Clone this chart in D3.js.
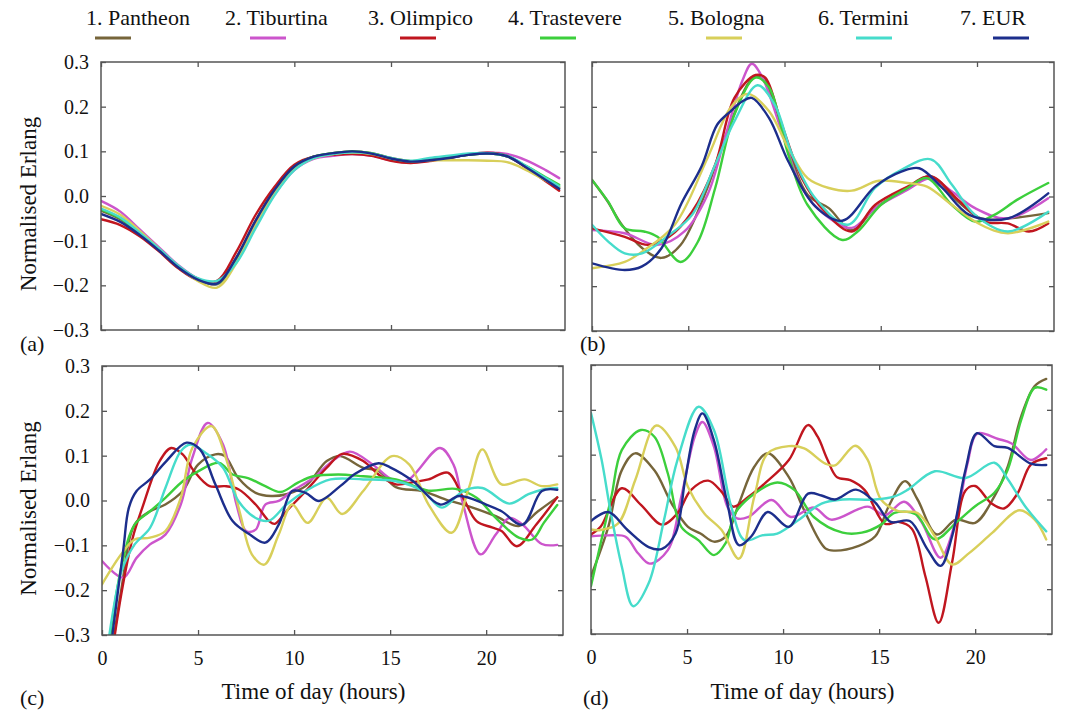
<!DOCTYPE html>
<html>
<head>
<meta charset="utf-8">
<script src="https://cdn.jsdelivr.net/npm/d3@7"></script>
<style>
  body { margin: 0; background: #fff; }
  svg { display: block; }
  text { font-family: "Liberation Serif", "Times New Roman", serif; fill: #111; }
</style>
</head>
<body>
<svg id="chart" width="1080" height="728"></svg>
<script>
// stations, in legend order
const stations = ['Pantheon', 'Tiburtina', 'Olimpico', 'Trastevere', 'Bologna', 'Termini', 'EUR'];
const colors = ['#76653a', '#cc55cc', '#c0161f', '#3ccf3c', '#d8cf5a', '#46dccb', '#1c2e8c'];

const yTicks = [0.3, 0.2, 0.1, 0.0, -0.1, -0.2, -0.3];
const xTicks = [0, 5, 10, 15, 20];

// panel (a): hourly samples
const hoursA = [0, 1, 2, 3, 4, 5, 6, 7, 8, 9, 10, 11, 12, 13, 14, 15, 16, 17, 18, 19, 20, 21, 22, 23, 23.7];
const panelA = [
  [-0.033, -0.052, -0.084, -0.12, -0.158, -0.185, -0.196, -0.138, -0.055, 0.015, 0.066, 0.088, 0.096, 0.1, 0.096, 0.085, 0.078, 0.081, 0.086, 0.092, 0.095, 0.089, 0.064, 0.036, 0.018],
  [-0.011, -0.035, -0.075, -0.115, -0.155, -0.185, -0.198, -0.145, -0.065, 0.005, 0.058, 0.083, 0.09, 0.094, 0.09, 0.08, 0.075, 0.08, 0.086, 0.093, 0.097, 0.094, 0.08, 0.058, 0.04],
  [-0.052, -0.065, -0.09, -0.124, -0.162, -0.188, -0.19, -0.125, -0.042, 0.022, 0.07, 0.088, 0.092, 0.094, 0.09, 0.079, 0.074, 0.078, 0.085, 0.093, 0.097, 0.09, 0.063, 0.033, 0.012],
  [-0.03, -0.05, -0.083, -0.12, -0.158, -0.186, -0.197, -0.14, -0.058, 0.013, 0.065, 0.088, 0.096, 0.1, 0.096, 0.084, 0.078, 0.081, 0.086, 0.092, 0.095, 0.089, 0.067, 0.042, 0.025],
  [-0.022, -0.042, -0.078, -0.118, -0.158, -0.19, -0.205, -0.15, -0.062, 0.008, 0.06, 0.085, 0.094, 0.097, 0.094, 0.084, 0.078, 0.08, 0.08, 0.08, 0.079, 0.076, 0.058, 0.035, 0.02],
  [-0.028, -0.048, -0.082, -0.118, -0.156, -0.184, -0.19, -0.15, -0.072, 0.003, 0.058, 0.085, 0.094, 0.098, 0.095, 0.085, 0.079, 0.085, 0.09, 0.095, 0.096, 0.09, 0.067, 0.04, 0.022],
  [-0.04, -0.058, -0.087, -0.122, -0.16, -0.187, -0.196, -0.138, -0.055, 0.015, 0.066, 0.088, 0.096, 0.1, 0.095, 0.084, 0.077, 0.08, 0.085, 0.092, 0.095, 0.089, 0.064, 0.036, 0.016]
];

// panels (b)-(d): [hour, value] pairs
const panelB = [
  [[0,0.037],[0.8,-0.01],[1.5,-0.06],[2.6,-0.115],[3.6,-0.137],[4.6,-0.108],[6,0.02],[6.9,0.13],[8.3,0.262],[8.8,0.268],[9.8,0.16],[11.2,0.004],[12.3,-0.026],[13.5,-0.075],[14.7,-0.026],[16.4,0.019],[17.6,0.045],[19,-0.011],[20.2,-0.049],[21.6,-0.049],[23.7,-0.037]],
  [[0,-0.075],[1.7,-0.082],[3.4,-0.108],[4.8,-0.078],[6,0.004],[6.9,0.13],[7.8,0.257],[8.3,0.296],[8.8,0.27],[9.8,0.153],[10.9,0.019],[12.1,-0.041],[13.5,-0.07],[14.7,-0.026],[16.4,0.015],[17.6,0.041],[18.7,0.011],[19.9,-0.026],[21.6,-0.049],[23.7,-0.004]],
  [[0,-0.071],[1.7,-0.09],[2.9,-0.108],[4,-0.09],[5.2,-0.034],[6.4,0.071],[7.4,0.22],[8.5,0.271],[9,0.265],[9.8,0.168],[10.9,0.041],[12.1,-0.034],[13.5,-0.078],[14.7,-0.019],[16.4,0.022],[17.6,0.045],[19,-0.007],[20.4,-0.056],[21.6,-0.06],[22.7,-0.078],[23.7,-0.06]],
  [[0,0.037],[0.83,-0.011],[1.7,-0.071],[2.7,-0.078],[3.4,-0.09],[4.6,-0.146],[5.5,-0.101],[6.4,0.019],[7.4,0.183],[8.5,0.265],[9.2,0.243],[10.2,0.093],[11.2,-0.019],[13,-0.097],[13.8,-0.078],[15,-0.019],[16.4,0.019],[17.4,0.041],[18.7,-0.019],[19.9,-0.056],[20.9,-0.041],[22.1,-0.007],[23.7,0.03]],
  [[0,-0.16],[1.7,-0.146],[2.6,-0.123],[4.3,-0.063],[6,0.086],[7.2,0.198],[8.1,0.229],[9.2,0.19],[10.2,0.108],[11.2,0.041],[12.3,0.019],[13.5,0.013],[14.9,0.035],[16.4,0.03],[17.4,0.022],[18.7,-0.019],[20.2,-0.063],[21.6,-0.082],[23.7,-0.056]],
  [[0,-0.063],[0.83,-0.1],[1.7,-0.127],[2.6,-0.127],[4,-0.086],[5.2,-0.041],[6.4,0.071],[7.4,0.168],[8.6,0.248],[9.5,0.204],[10.4,0.093],[11.6,-0.004],[13.3,-0.063],[14.7,0.019],[16.1,0.06],[17.6,0.083],[18.7,0.026],[19.9,-0.041],[21.6,-0.078],[23.7,-0.034]],
  [[0,-0.149],[1.7,-0.164],[2.6,-0.156],[3.6,-0.116],[4.65,-0.015],[5.7,0.068],[6.5,0.16],[7.2,0.19],[7.8,0.212],[8.3,0.22],[9.2,0.175],[10.2,0.078],[11.6,-0.022],[13,-0.054],[14.7,0.022],[16.1,0.056],[17,0.063],[18.2,0.019],[19.6,-0.041],[21.6,-0.049],[23.7,0.007]]
];

const panelC = [
  [[0,-0.5],[1,-0.2],[1.7,-0.054],[2.5,-0.024],[3.3,-0.009],[4.2,0.021],[5,0.08],[5.9,0.103],[6.4,0.099],[7.1,0.05],[8,0.017],[8.8,0.01],[9.6,0.014],[10.6,0.032],[11.7,0.088],[12.4,0.099],[13.6,0.073],[14.4,0.066],[15.3,0.03],[16.7,0.021],[17.9,0.002],[19.1,-0.013],[20.5,-0.035],[21.7,-0.057],[22.7,-0.024],[23.7,0.007]],
  [[0,-0.135],[1.1,-0.172],[1.8,-0.128],[2.5,-0.098],[3.3,-0.076],[4.1,-0.009],[4.7,0.095],[5.5,0.173],[6.3,0.125],[7,-0.009],[7.5,-0.068],[8,-0.065],[8.5,-0.009],[9.2,-0.001],[9.9,0.021],[11,0.05],[12,0.088],[12.9,0.109],[14.1,0.08],[15.1,0.047],[15.9,0.045],[17.6,0.117],[18.3,0.08],[18.8,-0.009],[19.7,-0.12],[20.5,-0.076],[21.2,-0.039],[21.9,-0.054],[22.9,-0.097],[23.7,-0.099]],
  [[0,-0.5],[1,-0.21],[1.6,-0.083],[2.1,-0.016],[3,0.088],[3.6,0.117],[4.2,0.103],[4.8,0.065],[5.6,0.032],[6.4,0.032],[7.1,0.025],[8,-0.009],[8.7,-0.046],[9,-0.052],[9.6,-0.024],[10.6,0.021],[11.7,0.073],[12.5,0.104],[13.6,0.088],[14.4,0.058],[15.3,0.036],[16.2,0.041],[17,0.047],[18,0.062],[18.8,0.006],[19.5,-0.046],[20.3,-0.06],[20.8,-0.068],[21.6,-0.102],[22.6,-0.054],[23.7,0.007]],
  [[0,-0.45],[1,-0.15],[1.7,-0.054],[2.5,-0.024],[3.3,0.006],[4.2,0.043],[5,0.065],[6.1,0.084],[6.8,0.058],[7.6,0.05],[8.5,0.032],[9.3,0.019],[10.2,0.04],[11,0.054],[12.3,0.058],[13.6,0.054],[15.3,0.047],[17,0.022],[18.4,0.026],[19.5,0.006],[20.5,-0.039],[21.7,-0.083],[22.4,-0.087],[23,-0.05],[23.7,-0.01]],
  [[0,-0.187],[1,-0.12],[1.7,-0.087],[2.5,-0.083],[3.3,-0.068],[4.1,0.006],[4.7,0.117],[5.7,0.166],[6.5,0.088],[7.2,-0.031],[7.8,-0.12],[8.45,-0.143],[9.2,-0.076],[9.9,-0.009],[10.7,-0.05],[11.7,0.006],[12.5,-0.03],[13.6,0.021],[15.1,0.099],[16,0.08],[17,-0.009],[18.2,-0.072],[19.1,0.028],[19.8,0.114],[20.8,0.036],[22,0.047],[22.9,0.032],[23.7,0.036]],
  [[0,-0.42],[1,-0.16],[1.7,-0.098],[2.5,-0.061],[3.3,0.028],[4.1,0.11],[4.6,0.125],[5.4,0.106],[6.3,0.073],[7.1,-0.001],[8,-0.039],[8.7,-0.045],[9.6,-0.009],[10.6,0.021],[11.9,0.047],[13.6,0.047],[15.3,0.043],[16.7,0.021],[17.7,-0.016],[18.8,0.021],[19.8,0.028],[21.2,-0.007],[22.2,0.014],[23,0.025],[23.7,0.028]],
  [[0,-0.48],[1.1,-0.113],[1.4,-0.016],[1.8,0.021],[2.5,0.047],[3.35,0.088],[4.4,0.129],[5.1,0.114],[5.9,0.036],[6.8,-0.046],[7.7,-0.076],[8.5,-0.094],[9.2,-0.054],[9.9,0.021],[10.6,0.017],[11.3,-0.001],[12.4,0.032],[13.2,0.06],[14.4,0.083],[15,0.074],[16.2,0.043],[17.6,-0.009],[18.6,0.01],[20,-0.009],[20.8,-0.024],[21.9,-0.054],[22.9,0.021],[23.7,0.024]]
];

const panelD = [
  [[0,-0.171],[0.9,-0.061],[1.6,0.065],[2.3,0.103],[3.3,0.065],[4.2,-0.009],[5.05,-0.061],[5.7,-0.076],[6.4,-0.094],[7,-0.083],[7.7,-0.009],[8.5,0.073],[9.2,0.103],[10.3,0.05],[11.1,-0.024],[12.2,-0.109],[12.7,-0.114],[13.9,-0.104],[14.8,-0.082],[15.5,-0.015],[16.35,0.041],[17,0.0],[18,-0.078],[19,-0.045],[20,-0.052],[21,0.007],[21.7,0.074],[22.4,0.186],[23.1,0.253],[23.7,0.269]],
  [[0,-0.082],[0.9,-0.08],[1.8,-0.083],[2.45,-0.12],[3.05,-0.143],[4,-0.113],[4.7,0.006],[5.4,0.14],[5.8,0.173],[6.4,0.118],[7.1,-0.016],[7.6,-0.042],[8.2,-0.039],[9.4,-0.001],[10.4,-0.039],[11.6,-0.018],[12.5,-0.045],[14.4,-0.016],[15.3,-0.035],[16.3,-0.005],[17.2,-0.05],[18.2,-0.13],[19,-0.045],[19.6,0.08],[20.1,0.147],[21.2,0.135],[21.9,0.125],[22.9,0.088],[23.7,0.112]],
  [[0,-0.078],[0.5,-0.061],[1.6,0.025],[2.6,-0.012],[3.7,-0.056],[4.5,-0.031],[5.2,0.021],[6.1,0.042],[6.8,0.017],[7.4,-0.016],[8.2,0.006],[9.05,0.036],[10.3,0.088],[11.3,0.166],[11.8,0.14],[12.3,0.09],[12.8,0.05],[13.5,0.043],[14.25,0.021],[15.3,-0.054],[16,-0.05],[16.7,-0.065],[17.4,-0.17],[18.1,-0.275],[18.8,-0.14],[19.5,0.02],[20,0.03],[20.85,-0.009],[21.5,-0.02],[22.2,0.013],[22.9,0.078],[23.7,0.092]],
  [[0,-0.193],[0.5,-0.098],[1.06,0.006],[1.6,0.11],[2.6,0.155],[3.3,0.14],[4,0.058],[4.7,-0.061],[5.6,-0.091],[6.4,-0.124],[7,-0.098],[7.5,-0.031],[8.5,0.013],[9.7,0.038],[10.6,0.021],[11.6,-0.039],[13.1,-0.074],[14.1,-0.074],[15.1,-0.056],[15.8,-0.03],[16.9,-0.033],[17.9,-0.089],[19,-0.052],[20,-0.015],[21,0.015],[21.7,0.067],[22.4,0.178],[23.1,0.249],[23.7,0.245]],
  [[0,-0.067],[0.5,-0.068],[1.4,-0.054],[2.3,0.043],[3.4,0.165],[4.4,0.117],[5.05,0.028],[5.9,-0.031],[6.8,-0.068],[7.7,-0.132],[8.5,0.006],[9.2,0.103],[10.3,0.119],[11.1,0.114],[12.2,0.08],[12.7,0.076],[13.75,0.12],[14.4,0.089],[15.1,0.0],[16,-0.026],[17,-0.03],[17.9,-0.082],[18.8,-0.145],[19.7,-0.119],[20.9,-0.074],[22.3,-0.024],[23.1,-0.045],[23.7,-0.089]],
  [[0,0.193],[0.55,0.089],[1,-0.022],[1.6,-0.149],[2.2,-0.238],[3,-0.187],[3.8,-0.046],[4.5,0.088],[5.6,0.207],[6.4,0.155],[7.3,-0.016],[8,-0.091],[8.9,-0.08],[9.7,-0.076],[10.8,-0.046],[12,-0.009],[13.1,0.0],[14.8,0.0],[15.8,0.007],[16.5,0.022],[17.9,0.063],[19.5,0.048],[21,0.082],[21.7,0.045],[22.6,-0.015],[23.7,-0.071]],
  [[0,-0.048],[0.9,-0.028],[1.9,-0.068],[3,-0.106],[3.7,-0.11],[4.4,-0.076],[4.9,0.044],[5.4,0.155],[5.8,0.192],[6.4,0.132],[7.1,-0.009],[7.7,-0.102],[8.35,-0.082],[9.2,-0.028],[10.3,-0.061],[11.3,0.013],[12,0.009],[12.7,0.0],[13.8,0.022],[14.8,-0.007],[15.6,-0.05],[16.6,-0.048],[17.5,-0.11],[18.2,-0.148],[18.8,-0.082],[19.5,0.067],[20.1,0.148],[21,0.119],[21.7,0.115],[22.9,0.08],[23.7,0.077]]
];

const svg = d3.select('#chart');
const axisColor = '#555';

const panels = [
  { id: 'a', series: panelA.map(vals => vals.map((v, i) => [hoursA[i], v])), left: 101, right: 565, top: 62, bottom: 330, yLabels: true, xLabels: false, tag: [20, 351] },
  { id: 'b', series: panelB, left: 592, right: 1054, top: 62, bottom: 331, yLabels: false, xLabels: false, tag: [580, 351] },
  { id: 'c', series: panelC, left: 102, right: 563, top: 366, bottom: 635, yLabels: true, xLabels: true, tag: [20, 705] },
  { id: 'd', series: panelD, left: 591, right: 1052, top: 365, bottom: 634, yLabels: false, xLabels: true, tag: [583, 705] }
];

panels.forEach(p => {
    const x = d3.scaleLinear().domain([0, 24]).range([p.left, p.right]);
    const y = d3.scaleLinear().domain([-0.3, 0.3]).range([p.bottom, p.top]);
    const g = svg.append('g');

    g.append('clipPath').attr('id', 'clip-' + p.id)
     .append('rect')
     .attr('x', p.left).attr('y', p.top)
     .attr('width', p.right - p.left).attr('height', p.bottom - p.top);

    const line = d3.line()
                   .x(d => x(d[0]))
                   .y(d => y(d[1]))
                   .curve(d3.curveCatmullRom.alpha(0.5));

    g.append('g')
     .attr('clip-path', `url(#clip-${p.id})`)
     .selectAll('path')
     .data(p.series)
     .enter()
     .append('path')
     .attr('d', d => line(d))
     .attr('fill', 'none')
     .attr('stroke', (d, i) => colors[i])
     .attr('stroke-width', 2.4)
     .attr('stroke-linejoin', 'round')
     .attr('stroke-linecap', 'round');

    // inward ticks on all four sides
    const fmtY = d3.format('.1f');
    const axes = [
      { gen: d3.axisBottom(x).tickValues(xTicks).tickFormat(p.xLabels ? d3.format('d') : ''), t: `translate(0,${p.bottom})`, pad: 16 },
      { gen: d3.axisTop(x).tickValues(xTicks).tickFormat(''), t: `translate(0,${p.top})`, pad: 3 },
      { gen: d3.axisLeft(y).tickValues(yTicks).tickFormat(p.yLabels ? fmtY : ''), t: `translate(${p.left},0)`, pad: 12 },
      { gen: d3.axisRight(y).tickValues(yTicks).tickFormat(''), t: `translate(${p.right},0)`, pad: 3 }
    ];
    axes.forEach(a => {
        const ax = g.append('g')
                    .attr('transform', a.t)
                    .call(a.gen.tickSizeInner(-5).tickSizeOuter(0).tickPadding(a.pad));
        ax.select('.domain').remove();
        ax.selectAll('line').attr('stroke', axisColor).attr('stroke-width', 1.3);
        ax.selectAll('text')
          .attr('fill', '#111')
          .style('font-family', '"Liberation Serif", "Times New Roman", serif')
          .style('font-size', '20px');
    });

    g.append('rect')
     .attr('x', p.left).attr('y', p.top)
     .attr('width', p.right - p.left).attr('height', p.bottom - p.top)
     .attr('fill', 'none')
     .attr('stroke', axisColor)
     .attr('stroke-width', 1.5);

    if (p.yLabels) {
        g.append('text')
         .attr('transform', `translate(36,${(p.top + p.bottom) / 2 + 8}) rotate(-90)`)
         .attr('text-anchor', 'middle')
         .style('font-size', '23px')
         .text('Normalised Erlang');
    }
    if (p.xLabels) {
        g.append('text')
         .attr('x', (p.left + p.right) / 2 - 19)
         .attr('y', 699)
         .attr('text-anchor', 'middle')
         .style('font-size', '23px')
         .text('Time of day (hours)');
    }
    g.append('text')
     .attr('x', p.tag[0]).attr('y', p.tag[1])
     .style('font-size', '22px')
     .text(`(${p.id})`);
});

// legend across the top
const legendText = [86, 225, 368, 508, 668, 818, 960];
const legendLine = [95, 250, 400, 540, 706, 856, 993];
const legend = svg.append('g');
legend.selectAll('text')
      .data(stations)
      .enter()
      .append('text')
      .attr('x', (d, i) => legendText[i])
      .attr('y', 25)
      .style('font-size', '22px')
      .text((d, i) => `${i + 1}. ${d}`);
legend.selectAll('line')
      .data(stations)
      .enter()
      .append('line')
      .attr('x1', (d, i) => legendLine[i])
      .attr('x2', (d, i) => legendLine[i] + 36)
      .attr('y1', 38).attr('y2', 38)
      .attr('stroke', (d, i) => colors[i])
      .attr('stroke-width', 3);
</script>
</body>
</html>
